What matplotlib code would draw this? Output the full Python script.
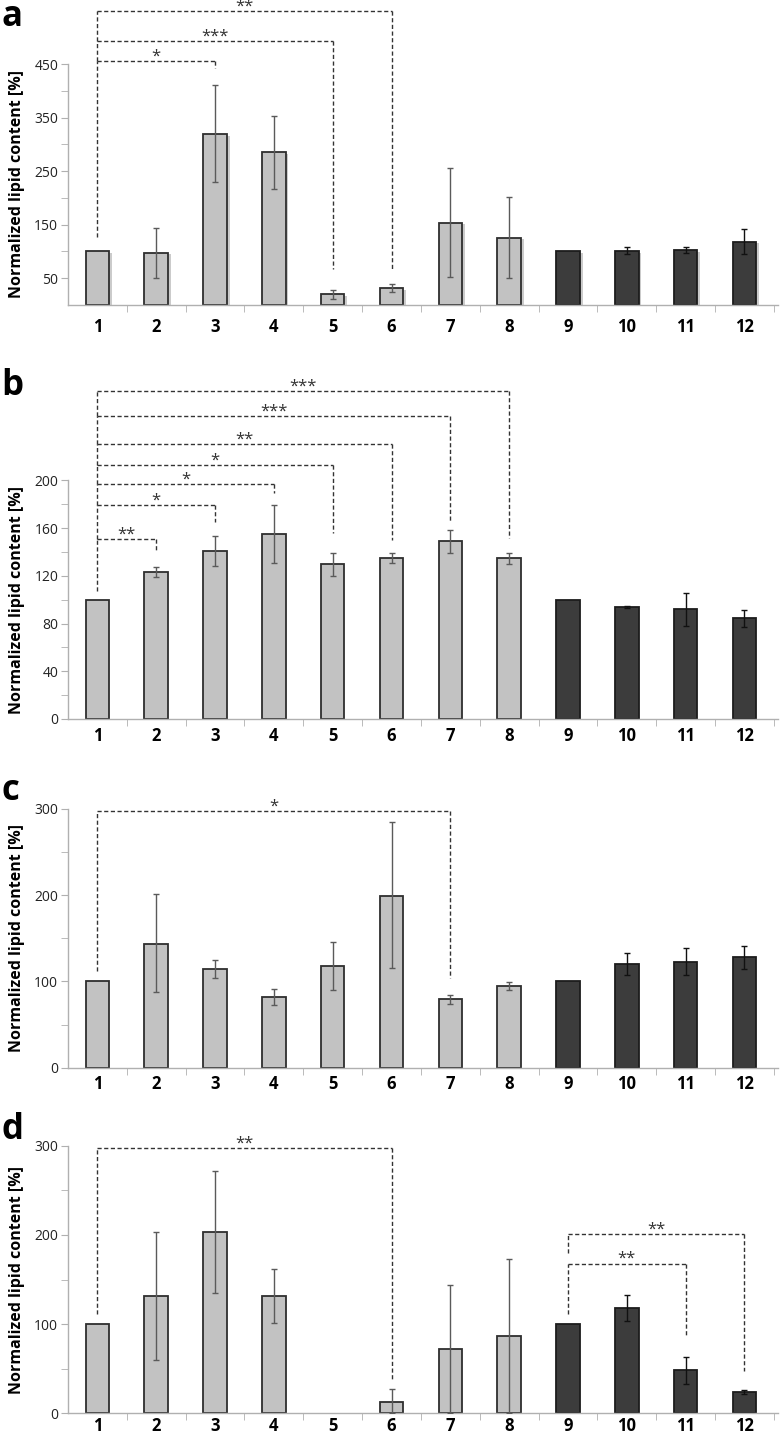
import matplotlib
matplotlib.use('Agg')
import matplotlib.pyplot as plt
import matplotlib.patheffects as pe
import numpy as np
from matplotlib.ticker import FixedLocator

plt.rcParams['font.family'] = ['Open Sans', 'DejaVu Sans']

# groups 1-12 on every panel, 1-8 light bars, 9-12 dark bars
cats = list(range(1, 13))

# panel a
a_vals = [100, 98, 319, 285, 20, 32, 154, 126, 100, 101, 103, 118]
a_lo = [100, 50, 229, 217, 12, 25, 53, 50, 100, 95, 98, 95]
a_hi = [100, 143, 410, 352, 28, 40, 255, 201, 100, 108, 108, 141]
# (from, to, label, bracket top, left leg end, right leg end)
a_sig = [(1, 6, '**', 549, 493, 64),
         (1, 5, '***', 493, 456, 67),
         (1, 3, '*', 456, 127, 443)]

# panel b
b_vals = [100, 123.5, 140.5, 155, 129.5, 135, 149, 134.5, 100, 94, 92, 84.5]
b_lo = [100, 119, 128, 131, 119.5, 131, 139, 129.5, 100, 93, 78, 77]
b_hi = [100, 127, 153, 179, 139, 139, 158, 139.5, 100, 95, 105.5, 91]
b_sig = [(1, 8, '***', 274.5, 254, 152),
         (1, 7, '***', 254, 230.4, 165),
         (1, 6, '**', 230.4, 212.7, 150),
         (1, 5, '*', 212.7, 197, 155.5),
         (1, 4, '*', 197, 179.2, 189),
         (1, 3, '*', 179.2, 150.4, 165),
         (1, 2, '**', 150.4, 107.6, 139.7)]

# panel c
c_vals = [100, 144, 114, 82.5, 117.5, 199.5, 79.5, 94.5, 100, 120, 123, 128]
c_lo = [100, 87.5, 103.5, 73, 90, 116, 73.5, 90, 100, 107, 107, 114]
c_hi = [100, 202, 124.5, 91.5, 145.5, 284.5, 84.5, 99.5, 100, 132.5, 139, 141]
c_sig = [(1, 7, '*', 297.5, 112.5, 103.5)]

# panel d (group 5 has no value)
d_vals = [100, 131, 203, 131, 0, 13, 72, 87, 100, 118, 48, 24]
d_lo = [100, 60, 134.5, 101.5, 0, 0, 0, 0, 100, 104, 32.5, 21.5]
d_hi = [100, 203, 272, 162, 0, 27, 144, 172.5, 100, 133, 63, 26.5]
d_sig = [(1, 6, '**', 297.5, 111, 37),
         (9, 12, '**', 201.3, 179.4, 47.5),
         (9, 11, '**', 167.8, 111, 86.7)]

ylabel = 'Normalized lipid content [%]'
light = '#c2c2c2'
dark = '#3c3c3c'
axis_grey = '#b0b0b0'


def draw_panel(ax, vals, lo, hi, sig, ymax, major, minor, shadow=False, xpad=7):
    x = np.array(cats)
    vals = np.array(vals, float)
    lo = np.array(lo, float)
    hi = np.array(hi, float)
    for grp, fc, ec, erc in [(x <= 8, light, '#2e2e2e', '#5a5a5a'),
                             (x > 8, dark, '#1c1c1c', '#111111')]:
        keep = grp & (vals > 0)
        bars = ax.bar(x[keep], vals[keep], width=0.4, color=fc, edgecolor=ec,
                      linewidth=1.3, zorder=2)
        if shadow:
            for b in bars:
                b.set_path_effects([pe.SimplePatchShadow(offset=(2, -1.2),
                                                         shadow_rgbFace='0.55',
                                                         alpha=0.45),
                                    pe.Normal()])
        e = grp & (hi > lo)
        ax.errorbar(x[e], vals[e], yerr=[vals[e] - lo[e], hi[e] - vals[e]],
                    fmt='none', ecolor=erc, elinewidth=1, capsize=2.5,
                    capthick=1, zorder=3)

    for i, j, lab, top, lb, rb in sig:
        kw = dict(color='#333333', lw=1, ls=(0, (3, 1.8)), clip_on=False, zorder=4)
        ax.plot([i, i], [lb, top], **kw)
        ax.plot([i, j], [top, top], **kw)
        ax.plot([j, j], [top, rb], **kw)
        ax.annotate(lab, xy=((i + j) / 2, top), xytext=(0, -2.5),
                    textcoords='offset points', ha='center', va='bottom',
                    fontsize=12, color='#333333', annotation_clip=False)

    ax.set_xlim(0.5, 12.57)
    ax.set_ylim(0, ymax)
    ax.set_xticks(cats)
    ax.set_xticklabels([str(c) for c in cats], fontsize=12, fontweight='bold')
    ax.xaxis.set_minor_locator(FixedLocator(np.arange(1.5, 13, 1)))
    ax.tick_params(axis='x', which='major', length=0, pad=xpad)
    ax.tick_params(axis='x', which='minor', length=5, color=axis_grey)
    ax.set_yticks(major)
    ax.set_yticklabels([str(m) for m in major], fontsize=10, color='#222222')
    ax.yaxis.set_minor_locator(FixedLocator(minor))
    ax.tick_params(axis='y', which='both', length=5, color=axis_grey, pad=2)
    for s in ['top', 'right']:
        ax.spines[s].set_visible(False)
    for s in ['left', 'bottom']:
        ax.spines[s].set_color(axis_grey)
        ax.spines[s].set_linewidth(1)
    ax.set_ylabel(ylabel, fontsize=11.5, fontweight='bold')
    ax.yaxis.set_label_coords(-0.06, 0.5)


fig = plt.figure(figsize=(7.8, 14.35), dpi=100)
W, H = 780, 1435


def rect(bottom_px, top_px):
    return [68 / W, 1 - bottom_px / H, (778 - 68) / W, (bottom_px - top_px) / H]


ax_a = fig.add_axes(rect(305, 64))
ax_b = fig.add_axes(rect(719, 480.3))
ax_c = fig.add_axes(rect(1067.7, 809))
ax_d = fig.add_axes(rect(1413.3, 1145.7))

draw_panel(ax_a, a_vals, a_lo, a_hi, a_sig, 450,
           [50, 150, 250, 350, 450], [100, 200, 300, 400], shadow=True, xpad=9)
draw_panel(ax_b, b_vals, b_lo, b_hi, b_sig, 200,
           [0, 40, 80, 120, 160, 200], [20, 60, 100, 140, 180], xpad=6)
draw_panel(ax_c, c_vals, c_lo, c_hi, c_sig, 300, [0, 100, 200, 300], [50, 150, 250],
           xpad=5)
draw_panel(ax_d, d_vals, d_lo, d_hi, d_sig, 300, [0, 100, 200, 300], [50, 150, 250],
           xpad=2.5)

# panel letters
for lab, ytop in [('a', -1), ('b', 368), ('c', 773), ('d', 1112)]:
    fig.text(0.002, 1 - ytop / H, lab, fontsize=25, fontweight='bold',
             ha='left', va='top')

fig.savefig('out.png', dpi=100)
